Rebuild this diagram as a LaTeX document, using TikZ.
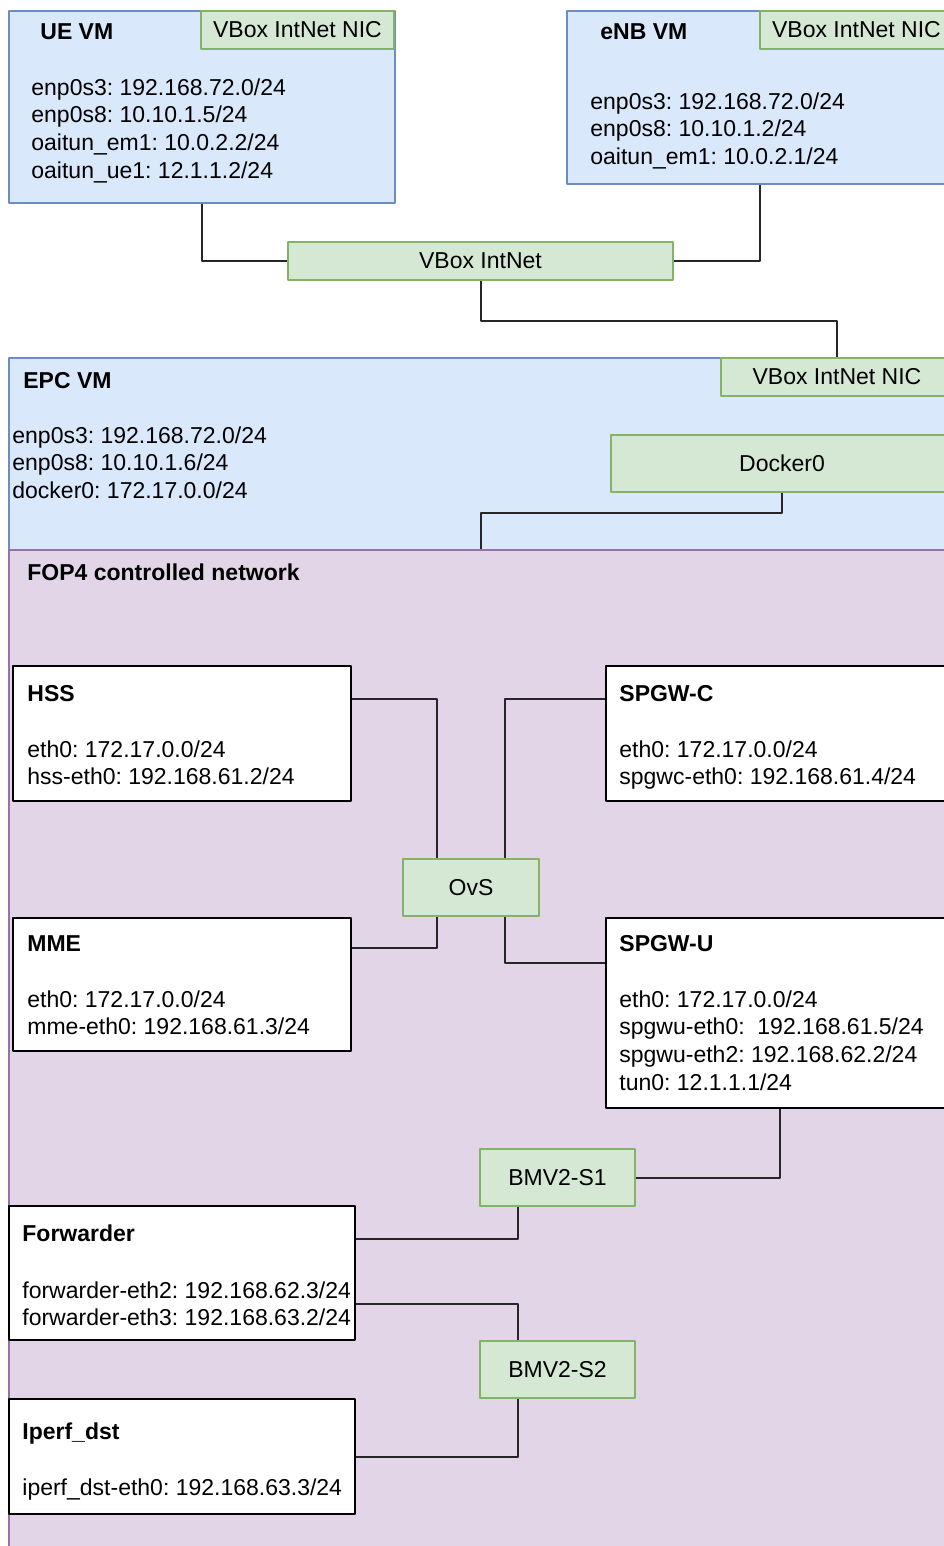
\documentclass[tikz,border=0pt]{standalone}
\usepackage{fontspec}
\setmainfont{Liberation Sans}
\usetikzlibrary{fit,calc}
\definecolor{vmfill}{HTML}{DAE8FC}
\definecolor{vmline}{HTML}{6C8EBF}
\definecolor{nicfill}{HTML}{D5E8D4}
\definecolor{nicline}{HTML}{82B366}
\definecolor{netfill}{HTML}{E1D5E7}
\definecolor{netline}{HTML}{9673A6}
\newcommand\diafont{\fontsize{11.5}{13.85}\selectfont}
\frenchspacing
\tikzset{
  vm/.style={draw=vmline, fill=vmfill, line width=0.6pt, inner sep=0pt},
  net/.style={draw=netline, fill=netfill, line width=0.6pt, inner sep=0pt},
  nic/.style={draw=nicline, fill=nicfill, line width=0.9pt, inner sep=0pt,
    label={[font=\diafont, inner sep=0pt]center:#1}},
  host/.style={draw=black, fill=white, line width=0.9pt, inner sep=0pt},
  ttl/.style={anchor=base west, inner sep=0pt, font=\diafont\bfseries},
  iflist/.style={anchor=north west, inner sep=0pt, align=left, font=\diafont},
  link/.style={draw=black!85, line width=1pt},
}
\begin{document}
\begin{tikzpicture}[x=0.5pt,y=-0.5pt,line join=round]
\useasboundingbox (0,0) rectangle (943,1546);
% virtual machines and the FOP4 network
\node[vm, fit={(9,11)(395,203)}] (ue) {};
\node[vm, fit={(567,11)(953,184)}] (enb) {};
\node[vm, fit={(9,358)(953,550)}] (epc) {};
\node[net, fit={(9,550)(953,1552)}] (fop) {};
\node[ttl] (ue-t) at (40,40) {UE VM};
\node[ttl] (enb-t) at (600,40) {eNB VM};
\node[ttl] (epc-t) at (23,388) {EPC VM};
\node[ttl] (fop-t) at (27,580) {FOP4 controlled network};
\node[iflist] (ue-if) at (31,78) {enp0s3: 192.168.72.0/24\\enp0s8: 10.10.1.5/24\\oaitun\_em1: 10.0.2.2/24\\oaitun\_ue1: 12.1.1.2/24};
\node[iflist] (enb-if) at (590,92) {enp0s3: 192.168.72.0/24\\enp0s8: 10.10.1.2/24\\oaitun\_em1: 10.0.2.1/24};
\node[iflist] (epc-if) at (12,426) {enp0s3: 192.168.72.0/24\\enp0s8: 10.10.1.6/24\\docker0: 172.17.0.0/24};
% containers
\node[host, fit={(13,666)(351,801)}] (hss) {};
\node[host, fit={(606,666)(953,801)}] (spgwc) {};
\node[host, fit={(13,918)(351,1051)}] (mme) {};
\node[host, fit={(606,918)(953,1108)}] (spgwu) {};
\node[host, fit={(9,1206)(355,1340)}] (fwd) {};
\node[host, fit={(9,1399)(355,1514)}] (iperf) {};
\node[ttl] (hss-t) at (27,701) {HSS};
\node[ttl] (spgwc-t) at (619,701) {SPGW-C};
\node[ttl] (mme-t) at (27,951) {MME};
\node[ttl] (spgwu-t) at (619,951) {SPGW-U};
\node[ttl] (fwd-t) at (22,1241) {Forwarder};
\node[ttl] (iperf-t) at (22,1439) {Iperf\_dst};
\node[iflist] (hss-if) at (27,740) {eth0: 172.17.0.0/24\\hss-eth0: 192.168.61.2/24};
\node[iflist] (spgwc-if) at (619,740) {eth0: 172.17.0.0/24\\spgwc-eth0: 192.168.61.4/24};
\node[iflist] (mme-if) at (27,990) {eth0: 172.17.0.0/24\\mme-eth0: 192.168.61.3/24};
\node[iflist] (spgwu-if) at (619,990) {eth0: 172.17.0.0/24\\spgwu-eth0:\ \ 192.168.61.5/24\\spgwu-eth2: 192.168.62.2/24\\tun0: 12.1.1.1/24};
\node[iflist] (fwd-if) at (22,1281) {forwarder-eth2: 192.168.62.3/24\\forwarder-eth3: 192.168.63.2/24};
\node[iflist] (iperf-if) at (22,1478) {iperf\_dst-eth0: 192.168.63.3/24};
% bridges and switches
\node[nic=VBox IntNet NIC, fit={(201,11)(394,49)}] (ue-nic) {};
\node[nic=VBox IntNet NIC, fit={(760,11)(953,49)}] (enb-nic) {};
\node[nic=VBox IntNet, fit={(288,242)(673,280)}] (intnet) {};
\node[nic=VBox IntNet NIC, fit={(721,358)(953,396)}] (epc-nic) {};
\node[nic=Docker0, fit={(611,435)(953,492)}] (docker) {};
\node[nic=OvS, fit={(403,859)(539,916)}] (ovs) {};
\node[nic=BMV2-S1, fit={(480,1149)(635,1206)}] (bmv1) {};
\node[nic=BMV2-S2, fit={(480,1341)(635,1398)}] (bmv2) {};
% links
\draw[link] (ue.south) |- (intnet.west);
\draw[link] (enb.south) |- (intnet.east);
\draw[link] (intnet.south) -- ++(0,40) -| (epc-nic.north);
\draw[link] (docker.south) -- ++(0,20) -| (fop.north);
\draw[link] (hss.north east) ++(0,34) -| ($(ovs.north west)!.25!(ovs.north east)$);
\draw[link] (spgwc.north west) ++(0,34) -| ($(ovs.north east)!.25!(ovs.north west)$);
\draw[link] (mme.north east) ++(0,31) -| ($(ovs.south west)!.25!(ovs.south east)$);
\draw[link] (spgwu.north west) ++(0,46) -| ($(ovs.south east)!.25!(ovs.south west)$);
\draw[link] (spgwu.south) |- (bmv1.east);
\draw[link] ($(bmv1.south west)!.25!(bmv1.south east)$) |- ($(fwd.north east)+(0,34)$);
\draw[link] (fwd.north east) ++(0,99) -| ($(bmv2.north west)!.25!(bmv2.north east)$);
\draw[link] ($(bmv2.south west)!.25!(bmv2.south east)$) |- (iperf.east);
\end{tikzpicture}
\end{document}
